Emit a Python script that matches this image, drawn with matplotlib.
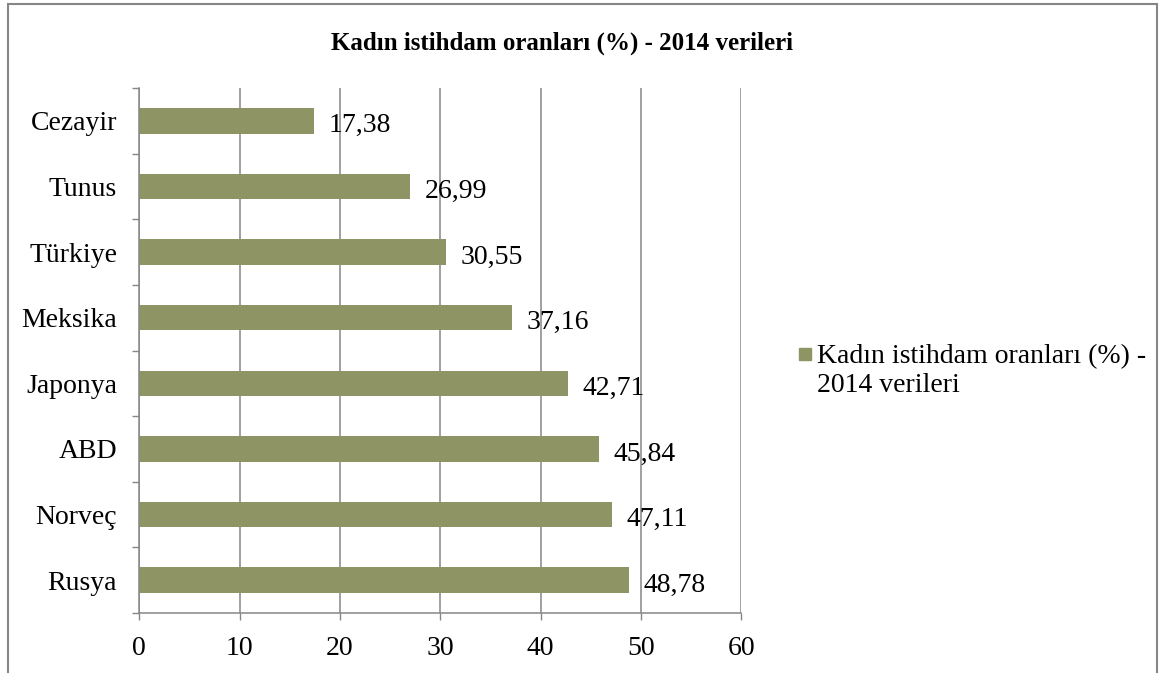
import matplotlib
matplotlib.use("Agg")
import matplotlib.pyplot as plt
from matplotlib.patches import Rectangle
from matplotlib.ticker import FixedLocator

plt.rcParams['font.family'] = ['Liberation Serif', 'DejaVu Serif']

countries = ["Cezayir", "Tunus", "Türkiye", "Meksika", "Japonya", "ABD", "Norveç", "Rusya"]
values = [17.38, 26.99, 30.55, 37.16, 42.71, 45.84, 47.11, 48.78]
series_name = "Kadın istihdam oranları (%) - 2014 verileri"
xticks = [0, 10, 20, 30, 40, 50, 60]

W, H = 1160, 673
fig = plt.figure(figsize=(W / 100, H / 100), dpi=100)
ax = fig.add_axes([139.3 / W, 1 - 613 / H, 602 / W, (613 - 88) / H])

bar_color = "#8E9464"
grid_color = "#868686"
FS = 20

ypos = list(range(len(countries)))
ax.barh(ypos, values, height=0.39, color=bar_color, zorder=2, label=series_name)
ax.set_ylim(len(countries) - 0.5, -0.5)
ax.set_xlim(0, 60)

ax.set_xticks(xticks)
ax.set_xticklabels([str(t) for t in xticks])
ax.set_yticks(ypos)
ax.set_yticklabels(countries)
ax.yaxis.set_minor_locator(FixedLocator([i - 0.5 for i in range(len(countries) + 1)]))

ax.tick_params(axis='y', which='major', length=0, pad=16, labelsize=FS)
ax.tick_params(axis='y', which='minor', length=5, width=1, color=grid_color, direction='out')
ax.tick_params(axis='x', which='major', length=5, width=1, color=grid_color, pad=11.5, labelsize=FS)

ax.grid(axis='x', color=grid_color, linewidth=1.1, zorder=1)
ax.set_axisbelow(True)
for s in ['top', 'right']:
    ax.spines[s].set_visible(False)
for s in ['left', 'bottom']:
    ax.spines[s].set_color(grid_color)
    ax.spines[s].set_linewidth(1.1)

for y, v in zip(ypos, values):
    ax.annotate(f"{v:.2f}".replace('.', ','), xy=(v, y), xytext=(10.5, -8.3),
                textcoords='offset points', va='baseline', ha='left', fontsize=FS)

fig.text(562 / W, 1 - 43 / H, series_name, ha='center', va='center',
         fontsize=18, fontweight='bold')

# legend (manual, two-line label)
fig.add_artist(Rectangle((799 / W, 1 - 360 / H), 12 / W, 12 / H,
                         transform=fig.transFigure, color=bar_color))
fig.text(817 / W, 1 - 392 / H, "Kadın istihdam oranları (%) -\n2014 verileri",
         ha='left', va='baseline', fontsize=FS, linespacing=1.2)

# outer frame
fig.add_artist(Rectangle((7.5 / W, -0.05), (1156.5 - 7.5) / W, 1.05 - 4 / H,
                         transform=fig.transFigure, fill=False,
                         edgecolor=grid_color, linewidth=1.5))

fig.savefig("out.png", dpi=100)
